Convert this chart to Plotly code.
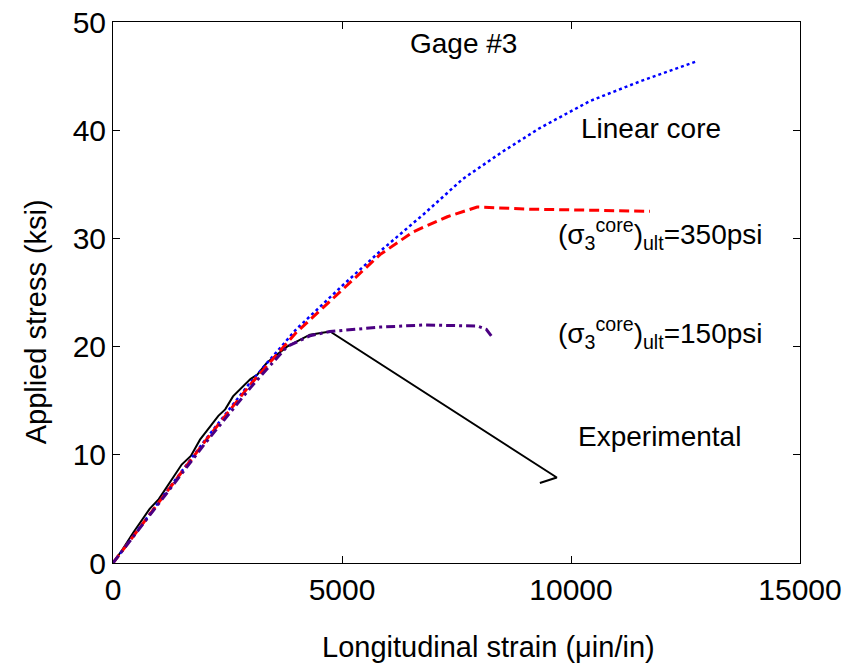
import plotly.graph_objects as go

# Gage #3 - applied stress vs longitudinal strain
exp_strain = [0, 200, 440, 800, 1000, 1170, 1500, 1700, 1900, 2300, 2450, 2620, 3000, 3150, 3360, 3800, 4300, 4740, 9690, 9320]
exp_stress = [0, 1.2, 2.8, 5.0, 5.9, 7.0, 9.1, 9.9, 11.4, 13.6, 14.2, 15.4, 17.0, 17.4, 18.5, 20.0, 21.1, 21.4, 7.9, 7.4]

lin_strain = [0, 1000, 2000, 3000, 4000, 5000, 5830, 6800, 7640, 8500, 9320, 10415, 11500, 12770]
lin_stress = [0, 5.7, 11.3, 16.7, 21.6, 25.6, 28.8, 32.3, 35.5, 38.0, 40.2, 42.7, 44.5, 46.4]

c350_strain = [0, 1000, 2000, 3000, 4000, 4740, 5830, 6550, 7300, 7950, 9100, 10500, 11725]
c350_stress = [0, 5.6, 11.2, 16.5, 21.3, 24.2, 28.5, 30.6, 32.0, 32.9, 32.7, 32.6, 32.5]

c150_strain = [0, 1000, 2000, 3000, 3800, 4300, 4740, 5830, 6800, 7950, 8150, 8275]
c150_stress = [0, 5.5, 11.0, 16.2, 20.0, 21.0, 21.4, 21.8, 22.0, 21.9, 21.6, 20.9]

x_ticks = [0, 5000, 10000, 15000]
y_ticks = [0, 10, 20, 30, 40, 50]

FONT = "Liberation Sans, Arial, Helvetica, sans-serif"

fig = go.Figure()
fig.add_trace(go.Scatter(x=exp_strain, y=exp_stress, mode="lines",
                         line=dict(color="black", width=2)))
fig.add_trace(go.Scatter(x=lin_strain, y=lin_stress, mode="lines",
                         line=dict(color="blue", width=2.5, dash="3px,3px")))
fig.add_trace(go.Scatter(x=c350_strain, y=c350_stress, mode="lines",
                         line=dict(color="red", width=3, dash="10px,5px")))
fig.add_trace(go.Scatter(x=c150_strain, y=c150_stress, mode="lines",
                         line=dict(color="#4B0082", width=3, dash="9px,4px,3px,4px")))

labels = [
    (7660, 48.0, "Gage #3"),
    (11750, 40.2, "Linear core"),
    (11950, 30.4, "(σ<sub>3</sub><sup>core</sup>)<sub>ult</sub>=350psi"),
    (11950, 21.3, "(σ<sub>3</sub><sup>core</sup>)<sub>ult</sub>=150psi"),
    (11940, 11.7, "Experimental"),
]
for x, y, t in labels:
    fig.add_annotation(x=x, y=y, text=t, showarrow=False,
                       xanchor="center", yanchor="middle",
                       font=dict(family=FONT, size=28, color="black"))

fig.add_annotation(xref="paper", yref="paper", x=0.547, y=-0.155,
                   xanchor="center", yanchor="middle",
                   text="Longitudinal strain (μin/in)", showarrow=False,
                   font=dict(family=FONT, size=29, color="black"))
fig.add_annotation(xref="paper", yref="paper", x=0, xshift=-77, y=0.445,
                   xanchor="center", yanchor="middle",
                   text="Applied stress (ksi)", textangle=-90, showarrow=False,
                   font=dict(family=FONT, size=29, color="black"))

axis_style = dict(showgrid=False, zeroline=False, showline=True, linecolor="black",
                  linewidth=1, mirror="ticks", ticks="inside", ticklen=7,
                  tickcolor="black", ticklabeloverflow="allow", automargin=False,
                  tickfont=dict(family=FONT, size=30, color="black"))

fig.update_xaxes(range=[0, 15000], tickvals=x_ticks, tickformat="d", **axis_style)
fig.update_yaxes(range=[0, 50], tickvals=y_ticks, **axis_style)

# page body adds an 8px offset, so the margins are shifted to compensate
fig.update_layout(
    width=852, height=665,
    margin=dict(l=105, r=60, t=14, b=110, autoexpand=False),
    paper_bgcolor="white", plot_bgcolor="white",
    showlegend=False,
    font=dict(family=FONT, color="black"),
)

fig.write_html("out.html")
